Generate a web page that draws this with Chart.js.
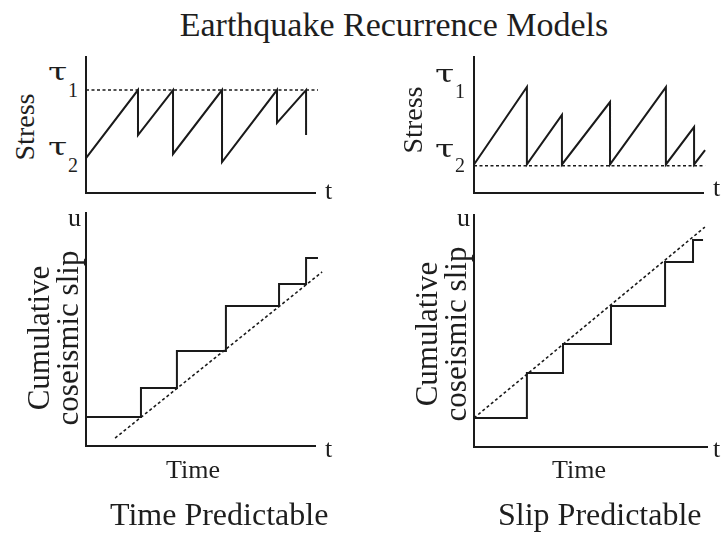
<!DOCTYPE html>
<html>
<head>
<meta charset="utf-8">
<script src="https://cdn.jsdelivr.net/npm/chart.js@4"></script>
<style>
  body { margin: 0; background: #fff; }
  #page { position: relative; width: 722px; height: 538px; overflow: hidden; background: #fff;
          font-family: "Liberation Serif", "Times New Roman", serif; color: #1e1e1e; }
  .panel { position: absolute; }
  .txt { position: absolute; line-height: 1; white-space: nowrap; }
  .rot { position: absolute; line-height: 1; white-space: nowrap; text-align: center;
         transform: translate(-50%, -50%) rotate(-90deg); }
  .tau { position: absolute; line-height: 1; font-family: "DejaVu Serif", serif; font-size: 24px;
         transform: scaleX(1.45); transform-origin: left center; }
  .sub { position: absolute; line-height: 1; font-size: 20px; }
</style>
</head>
<body>
<div id="page">
  <div class="txt" style="left:0;width:788px;text-align:center;top:8px;font-size:34px;">Earthquake Recurrence Models</div>

  <div class="panel" style="left:80px;top:50px;"><canvas id="c1" width="250" height="150"></canvas></div>
  <div class="panel" style="left:468px;top:50px;"><canvas id="c2" width="250" height="150"></canvas></div>
  <div class="panel" style="left:80px;top:205px;"><canvas id="c3" width="250" height="250"></canvas></div>
  <div class="panel" style="left:468px;top:207px;"><canvas id="c4" width="250" height="250"></canvas></div>

  <!-- stress panels -->
  <div class="rot" style="left:25px;top:127px;font-size:28px;">Stress</div>
  <div class="tau" style="left:48px;top:60px;">τ</div><div class="sub" style="left:68px;top:80px;">1</div>
  <div class="tau" style="left:48px;top:135px;">τ</div><div class="sub" style="left:68px;top:155px;">2</div>
  <div class="txt" style="left:325px;top:178px;font-size:26px;">t</div>

  <div class="rot" style="left:413px;top:120px;font-size:28px;">Stress</div>
  <div class="tau" style="left:435px;top:62px;">τ</div><div class="sub" style="left:455px;top:81px;">1</div>
  <div class="tau" style="left:435px;top:137px;">τ</div><div class="sub" style="left:455px;top:155px;">2</div>
  <div class="txt" style="left:713px;top:175px;font-size:26px;">t</div>

  <!-- slip panels -->
  <div class="rot" style="left:53px;top:338px;font-size:31px;line-height:29px;">Cumulative<br>coseismic slip</div>
  <div class="txt" style="left:68px;top:205px;font-size:26px;">u</div>
  <div class="txt" style="left:325px;top:436px;font-size:26px;">t</div>
  <div class="txt" style="left:166px;top:457px;font-size:26px;">Time</div>
  <div class="txt" style="left:110px;top:498px;font-size:32px;">Time Predictable</div>

  <div class="rot" style="left:441px;top:334px;font-size:31px;line-height:29px;">Cumulative<br>coseismic slip</div>
  <div class="txt" style="left:457px;top:205px;font-size:26px;">u</div>
  <div class="txt" style="left:713px;top:436px;font-size:26px;">t</div>
  <div class="txt" style="left:552px;top:457px;font-size:26px;">Time</div>
  <div class="txt" style="left:498px;top:498px;font-size:32px;">Slip Predictable</div>
</div>

<script>
// Time predictable: stress climbs to tau1 every time, drops by varying amounts
const tpStressTime = [0, 2.27, 2.27, 3.80, 3.80, 5.94, 5.94, 8.34, 8.34, 9.61, 9.61];
const tpStress     = [2.57, 7.57, 4.26, 7.57, 2.87, 7.57, 2.28, 7.57, 5.15, 7.57, 4.26];
const tpTau1Time = [0, 10.13];
const tpTau1     = [7.57, 7.57];

// Slip predictable: stress always drops to tau2, peaks vary
const spStressTime = [0, 2.31, 2.31, 3.84, 3.84, 5.94, 5.94, 8.38, 8.38, 9.61, 9.61, 10.09];
const spStress     = [2.1, 7.79, 2.1, 5.74, 2.1, 6.69, 2.1, 7.79, 2.1, 4.85, 2.1, 3.16];
const spTau2Time = [0, 10.09];
const spTau2     = [2.0, 2.0];

// Cumulative coseismic slip, time predictable
const tpSlipTime = [0, 2.40, 2.40, 3.97, 3.97, 6.11, 6.11, 8.43, 8.43, 9.61, 9.61, 10.13];
const tpSlip     = [1.24, 1.24, 2.49, 2.49, 4.08, 4.08, 6.01, 6.01, 6.95, 6.95, 8.07, 8.07];
const tpTrendTime = [1.27, 10.31];
const tpTrend     = [0.34, 7.47];

// Cumulative coseismic slip, slip predictable
const spSlipTime = [0, 2.27, 2.27, 3.82, 3.82, 5.88, 5.88, 8.20, 8.20, 9.40, 9.40, 9.83];
const spSlip     = [1.25, 1.25, 3.19, 3.19, 4.44, 4.44, 6.08, 6.08, 7.97, 7.97, 8.92, 8.92];
const spTrendTime = [0, 9.91];
const spTrend     = [1.25, 9.48];

const INK = '#1a1a1a';

function pts(xs, ys) {
    return xs.map((x, i) => ({ x: x, y: ys[i] }));
}

function solid(xs, ys) {
    return { data: pts(xs, ys), borderColor: INK, borderWidth: 2, pointRadius: 0, tension: 0, fill: false, clip: false };
}

function dashed(xs, ys) {
    return { data: pts(xs, ys), borderColor: INK, borderWidth: 1.6, borderDash: [3, 2.5], pointRadius: 0, tension: 0, fill: false, clip: false };
}

function axis() {
    return {
        type: 'linear', min: 0, max: 10,
        ticks: { display: false },
        grid: { display: false, drawTicks: false },
        border: { display: true, color: INK, width: 2 }
    };
}

function makeChart(id, datasets, padding) {
    return new Chart(document.getElementById(id), {
        type: 'line',
        data: { datasets: datasets },
        options: {
            responsive: false,
            animation: false,
            layout: { padding: padding },
            plugins: { legend: { display: false }, tooltip: { enabled: false } },
            scales: { x: axis(), y: axis() }
        }
    });
}

makeChart('c1', [dashed(tpTau1Time, tpTau1), solid(tpStressTime, tpStress)], { left: 6, top: 7, right: 15, bottom: 7 });
makeChart('c2', [dashed(spTau2Time, spTau2), solid(spStressTime, spStress)], { left: 6, top: 7, right: 15, bottom: 7 });
makeChart('c3', [dashed(tpTrendTime, tpTrend), solid(tpSlipTime, tpSlip)], { left: 6, top: 8, right: 15, bottom: 9 });
makeChart('c4', [dashed(spTrendTime, spTrend), solid(spSlipTime, spSlip)], { left: 6, top: 8, right: 11, bottom: 10 });
</script>
</body>
</html>
